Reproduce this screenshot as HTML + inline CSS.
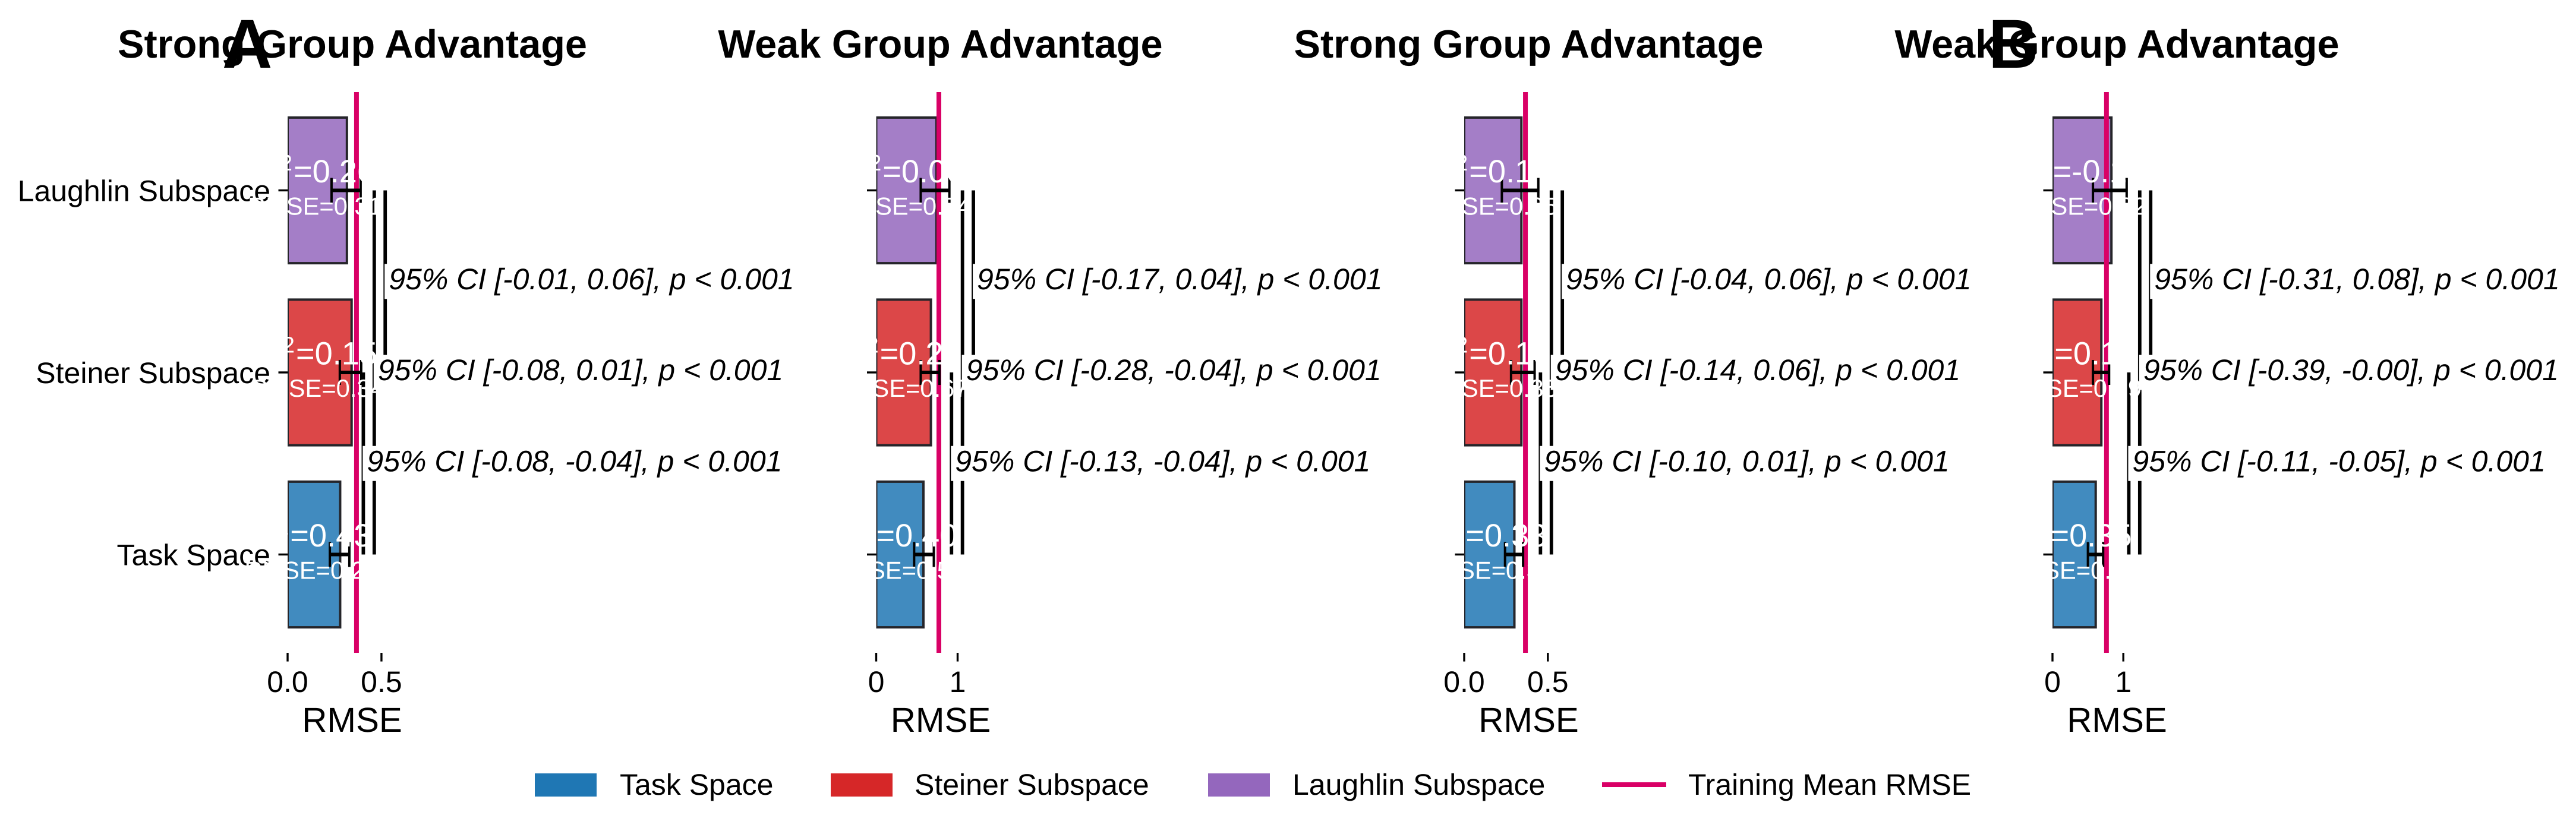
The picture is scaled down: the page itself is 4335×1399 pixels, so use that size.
<!DOCTYPE html>
<html lang="en">
<head>
<meta charset="utf-8">
<title>RMSE by subspace: Strong and Weak Group Advantage</title>
<style>
  html, body { margin: 0; padding: 0; background: #fff; }
  svg { display: block; font-family: "Liberation Sans", Arial, sans-serif; text-rendering: geometricPrecision; }
</style>
</head>
<body>
<svg id="chart" xmlns="http://www.w3.org/2000/svg" width="4335" height="1399" viewBox="0 0 4335 1399">
  <rect x="0" y="0" width="4335" height="1399" fill="#ffffff"/>
  <g id="panels"></g>
  <g id="titles" font-size="66.67" font-weight="700" text-anchor="middle" fill="#000">
    <text x="593" y="97">Strong Group Advantage</text>
    <text x="1582.5" y="97">Weak Group Advantage</text>
    <text x="2572.5" y="97">Strong Group Advantage</text>
    <text x="3562.5" y="97">Weak Group Advantage</text>
  </g>
  <text x="374" y="114" font-size="116.67" font-weight="700" fill="#000">A</text>
  <text x="3346" y="114" font-size="116.67" font-weight="700" fill="#000">B</text>
  <g id="legend" font-size="50" fill="#000">
    <g>
      <rect x="900" y="1302" width="104" height="39" fill="#1f77b4"/>
      <text x="1043" y="1338">Task Space</text>
    </g>
    <g>
      <rect x="1398" y="1302" width="104" height="39" fill="#d62728"/>
      <text x="1539" y="1338">Steiner Subspace</text>
    </g>
    <g>
      <rect x="2033" y="1302" width="104" height="39" fill="#9467bd"/>
      <text x="2175" y="1338">Laughlin Subspace</text>
    </g>
    <g>
      <line x1="2696" x2="2804" y1="1321" y2="1321" stroke="#d90066" stroke-width="8"/>
      <text x="2841" y="1338">Training Mean RMSE</text>
    </g>
  </g>
</svg>
<script>
// ---- Data (rows are Task, Steiner, Laughlin; outer arrays are the four panels) ----
const categories = ['Task Space', 'Steiner Subspace', 'Laughlin Subspace'];
const rmseValues = [
  [0.280, 0.341, 0.316],
  [0.580, 0.672, 0.740],
  [0.300, 0.342, 0.342],
  [0.610, 0.690, 0.832]
];
const errorLow = [
  [0.225, 0.278, 0.234],
  [0.466, 0.547, 0.547],
  [0.244, 0.280, 0.225],
  [0.500, 0.571, 0.571]
];
const errorHigh = [
  [0.329, 0.392, 0.389],
  [0.708, 0.777, 0.899],
  [0.352, 0.421, 0.443],
  [0.715, 0.799, 1.047]
];
const trainingMean = [0.367, 0.770, 0.366, 0.762];
const r2Labels = [
  ['0.43', '0.15', '0.26'],
  ['0.40', '0.23', '0.06'],
  ['0.33', '0.10', '0.14'],
  ['0.35', '0.11', '-0.19']
];
const rmseLabels = [
  ['0.28', '0.34', '0.31'],
  ['0.58', '0.67', '0.74'],
  ['0.30', '0.35', '0.35'],
  ['0.61', '0.69', '0.82']
];
const ciLabels = [
  ['95% CI [-0.01, 0.06], p < 0.001', '95% CI [-0.08, 0.01], p < 0.001', '95% CI [-0.08, -0.04], p < 0.001'],
  ['95% CI [-0.17, 0.04], p < 0.001', '95% CI [-0.28, -0.04], p < 0.001', '95% CI [-0.13, -0.04], p < 0.001'],
  ['95% CI [-0.04, 0.06], p < 0.001', '95% CI [-0.14, 0.06], p < 0.001', '95% CI [-0.10, 0.01], p < 0.001'],
  ['95% CI [-0.31, 0.08], p < 0.001', '95% CI [-0.39, -0.00], p < 0.001', '95% CI [-0.11, -0.05], p < 0.001']
];
const comparisonPairs = [[2, 1], [2, 0], [1, 0]];
const xTickValues = [[0, 0.5], [0, 1], [0, 0.5], [0, 1]];
const xTickLabels = [['0.0', '0.5'], ['0', '1'], ['0.0', '0.5'], ['0', '1']];
const xDomainMax = [0.687, 1.584, 0.7706, 1.82];

// ---- Layout and styles ----
const barFills = ['#418bbf', '#dc4748', '#a47ec7'];
const axesLeft = [484, 1474.5, 2464, 3454];
const axesWidth = 217;
const axesTop = 155;
const axesBottom = 1099;
const rowStep = 306.5;
const rowZeroY = 933.5;
const barBand = 0.8;
const bracketGap = 3.6;
const bracketStep = 18.4;
const bracketLevels = [2, 1, 0];

const NS = 'http://www.w3.org/2000/svg';
const root = document.getElementById('panels');

function xScale(p, v) { return axesLeft[p] + (v / xDomainMax[p]) * axesWidth; }
function yScale(i) { return rowZeroY - i * rowStep; }
function make(tag, parent, attrs, text) {
  const el = document.createElementNS(NS, tag);
  for (const k in attrs) el.setAttribute(k, attrs[k]);
  if (text !== undefined) el.textContent = text;
  parent.appendChild(el);
  return el;
}
function slug(s) { return s.toLowerCase().replace(/\s+/g, '-'); }

const defs = make('defs', root, {});
const overlays = [];

for (let p = 0; p < axesLeft.length; p++) {
  const panel = make('g', root, {});
  
  

  const clip = make('clipPath', defs, { id: 'axes-clip-' + p });
  make('rect', clip, { x: axesLeft[p], y: axesTop, width: axesWidth * 3, height: axesBottom - axesTop });

  // bars
  categories.forEach(function (cat, i) {
    const bh = rowStep * barBand;
    const bar = make('rect', panel, {
      x: xScale(p, 0), y: yScale(i) - bh / 2,
      width: xScale(p, rmseValues[p][i]) - xScale(p, 0), height: bh,
      fill: barFills[i], stroke: '#25252a', 'stroke-width': 4,
      'clip-path': 'url(#axes-clip-' + p + ')'
    });
    
    
  });

  // training mean line
  const meanLine = make('line', panel, {
    x1: xScale(p, trainingMean[p]), x2: xScale(p, trainingMean[p]),
    y1: axesTop, y2: axesBottom, stroke: '#d90066', 'stroke-width': 8
  });
  
  

  // error bars
  categories.forEach(function (cat, i) {
    const g = make('g', panel, { stroke: '#000' });
    
    
    const lo = xScale(p, errorLow[p][i]);
    const hi = xScale(p, errorHigh[p][i]);
    const y = yScale(i);
    make('line', g, { x1: lo, x2: hi, y1: y, y2: y, 'stroke-width': 6 });
    make('line', g, { x1: lo, x2: lo, y1: y - 21, y2: y + 21, 'stroke-width': 4 });
    make('line', g, { x1: hi, x2: hi, y1: y - 21, y2: y + 21, 'stroke-width': 4 });
  });

  // significance brackets
  const maxHigh = Math.max.apply(null, errorHigh[p]);
  const bracketBase = xScale(p, maxHigh) + bracketGap;
  const lineGroup = make('g', panel, { stroke: '#000', 'stroke-width': 5.8 });
  
  
  comparisonPairs.forEach(function (pair, c) {
    const bx = bracketBase + bracketLevels[c] * bracketStep;
    const bracket = make('line', lineGroup, { x1: bx, x2: bx, y1: yScale(pair[0]), y2: yScale(pair[1]) });
    
    
  });
  comparisonPairs.forEach(function (pair, c) {
    const bx = bracketBase + bracketLevels[c] * bracketStep;
    const midY = (yScale(pair[0]) + yScale(pair[1])) / 2;
    const box = make('rect', panel, { x: bx - 1, y: midY - 29.5, height: 59, width: 10, fill: '#ffffff' });
    
    
    const label = make('text', panel, {
      x: bx + 6, y: midY + 13, 'font-size': 50, 'font-style': 'italic', fill: '#000'
    }, ciLabels[p][c]);
    
    
    box.setAttribute('width', label.getComputedTextLength() + 14);
  });

  // y ticks
  categories.forEach(function (cat, i) {
    const tick = make('line', panel, {
      x1: axesLeft[p] - 15.5, x2: axesLeft[p], y1: yScale(i), y2: yScale(i),
      stroke: '#000', 'stroke-width': 3.4
    });
    
    
    if (p === 0) {
      const yLabel = make('text', panel, {
        x: axesLeft[p] - 29, y: yScale(i) + 18, 'font-size': 50, 'text-anchor': 'end', fill: '#000'
      }, cat);
      
      
    }
  });

  // x ticks
  xTickValues[p].forEach(function (v, t) {
    const tick = make('line', panel, {
      x1: xScale(p, v), x2: xScale(p, v), y1: axesBottom, y2: axesBottom + 14.6,
      stroke: '#000', 'stroke-width': 3.4
    });
    
    
    const xLabel = make('text', panel, {
      x: xScale(p, v), y: 1165, 'font-size': 50, 'text-anchor': 'middle', fill: '#000'
    }, xTickLabels[p][t]);
    
    
  });

  const xTitle = make('text', panel, {
    x: axesLeft[p] + axesWidth / 2, y: 1232, 'font-size': 58.33, 'text-anchor': 'middle', fill: '#000'
  }, 'RMSE');
  
  

  overlays.push(p);
}

// white in-bar statistics sit above every other mark
overlays.forEach(function (p) {
  categories.forEach(function (cat, i) {
    const mid = (xScale(p, 0) + xScale(p, rmseValues[p][i])) / 2;
    const r2 = make('text', root, {
      x: mid - 2.5, y: yScale(i) - 13.5, 'font-size': 54.17, 'text-anchor': 'middle', fill: '#ffffff'
    });
    
    
    make('tspan', r2, {}, 'R');
    make('tspan', r2, { dy: -20, 'font-size': 37.9 }, '2');
    make('tspan', r2, { dy: 20, dx: 2 }, '=' + r2Labels[p][i]);

    const rm = make('text', root, {
      x: mid - 4, y: yScale(i) + 41, 'font-size': 41.67, 'text-anchor': 'middle', fill: '#ffffff'
    }, 'RMSE=' + rmseLabels[p][i]);
    
    
  });
});
</script>
</body>
</html>
